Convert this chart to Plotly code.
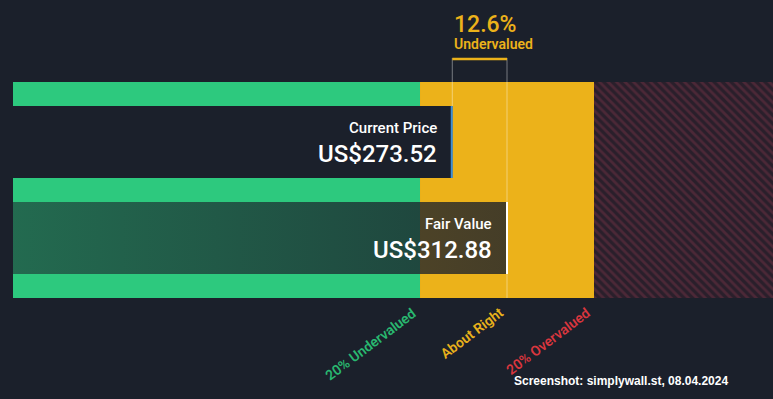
import plotly.graph_objects as go

# ---- data ----
fair_value = 312.88
current_price = 273.52
band_pct = 0.20
zone_labels = ["20% Undervalued", "About Right", "20% Overvalued"]
date_text = "Screenshot: simplywall.st, 08.04.2024"

lower = fair_value * (1 - band_pct)
upper = fair_value * (1 + band_pct)
discount = (fair_value - current_price) / fair_value * 100

# ---- layout constants ----
BG = "#1b202b"
GREEN = "#2dc97e"
YELLOW = "#ecb21a"
RED_LBL = "#d9363e"
X_RANGE = [-51.8, 504.2]
chart_start = -42.45
chart_end = 520

fig = go.Figure()

# zone bars (y axis in pixel-like units, reversed)
bar_c, bar_h = 190, 216
zone_starts = [chart_start, lower, upper]
zone_ends = [lower, upper, chart_end]
for i, (s, e) in enumerate(zip(zone_starts, zone_ends)):
    if i < 2:
        marker = dict(color=[GREEN, YELLOW][i], line=dict(width=0))
    else:
        marker = dict(color="#2a1f2b", line=dict(width=0),
                      pattern=dict(shape="\\", fgcolor="#6e3244", bgcolor="#2a1f2b",
                                   size=6, solidity=0.45))
    fig.add_trace(go.Bar(orientation="h", base=[s], x=[e - s], y=[bar_c], width=[bar_h],
                         marker=marker, hoverinfo="skip", showlegend=False))

# current price box
fig.add_trace(go.Bar(orientation="h", base=[chart_start], x=[current_price - chart_start],
                     y=[142], width=[72], marker=dict(color=BG, line=dict(width=0)),
                     hoverinfo="skip", showlegend=False))

# fair value box (gradient overlay)
fig.add_trace(go.Scatter(
    x=[chart_start, fair_value, fair_value, chart_start, chart_start],
    y=[202, 202, 274, 274, 202], mode="lines", line=dict(width=0),
    fill="toself",
    fillgradient=dict(type="horizontal",
                      colorscale=[[0, "rgba(27,32,43,0.56)"], [0.8, "rgba(27,32,43,0.76)"],
                                  [1, "rgba(27,32,43,0.8)"]]),
    hoverinfo="skip", showlegend=False))

def vline(x, y0, y1, color, width):
    fig.add_trace(go.Scatter(x=[x, x], y=[y0, y1], mode="lines",
                             line=dict(color=color, width=width),
                             hoverinfo="skip", showlegend=False))

vline(current_price, 58, 106, "rgba(255,255,255,0.4)", 1)
vline(fair_value, 58, 298, "rgba(255,255,255,0.4)", 1)
vline(current_price - 0.4, 106, 178, "#3f8fd6", 2)
vline(fair_value, 202, 274, "#ffffff", 2)
# bracket
fig.add_trace(go.Scatter(x=[current_price, fair_value], y=[59, 59], mode="lines",
                         line=dict(color=YELLOW, width=2.5),
                         hoverinfo="skip", showlegend=False))

ann = []
FONT = "Roboto"
ann.append(dict(x=current_price, y=24, text=f"{discount:.1f}%", xanchor="left", yanchor="middle",
                showarrow=False, font=dict(family=FONT, size=23, color=YELLOW, weight=500)))
ann.append(dict(x=current_price, y=44, text="Undervalued", xanchor="left", yanchor="middle",
                showarrow=False, font=dict(family=FONT, size=14, color=YELLOW, weight=600)))
ann.append(dict(x=current_price, xshift=-13, y=128, text="Current Price", xanchor="right",
                yanchor="middle", showarrow=False,
                font=dict(family=FONT, size=15, color="white", weight=500)))
ann.append(dict(x=current_price, xshift=-13, y=154, text=f"US${current_price:.2f}", xanchor="right",
                yanchor="middle", showarrow=False,
                font=dict(family=FONT, size=24, color="white", weight=500)))
ann.append(dict(x=fair_value, xshift=-13, y=224, text="Fair Value", xanchor="right",
                yanchor="middle", showarrow=False,
                font=dict(family=FONT, size=15, color="white", weight=500)))
ann.append(dict(x=fair_value, xshift=-13, y=250, text=f"US${fair_value:.2f}", xanchor="right",
                yanchor="middle", showarrow=False,
                font=dict(family=FONT, size=24, color="white", weight=500)))
for xv, lbl, col in zip([lower, fair_value, upper], zone_labels, ["#29b870", "#e9b11b", RED_LBL]):
    ann.append(dict(x=xv, xshift=2, y=302, text=lbl, textangle=-37, xanchor="right",
                    yanchor="top", showarrow=False,
                    font=dict(family=FONT, size=14, color=col, weight=600)))
ann.append(dict(x=621 / 773, y=1 - 381 / 399, xref="paper", yref="paper", text=f"<b>{date_text}</b>",
                xanchor="center", yanchor="middle", showarrow=False,
                font=dict(family="Liberation Sans", size=12, color="white")))
for a in ann:
    a.setdefault("xref", "x")
    a.setdefault("yref", "y")

fig.update_layout(
    width=773, height=399, margin=dict(l=0, r=0, t=0, b=0),
    paper_bgcolor=BG, plot_bgcolor=BG, barmode="overlay",
    xaxis=dict(range=X_RANGE, visible=False, fixedrange=True),
    yaxis=dict(range=[399, 0], visible=False, fixedrange=True),
    annotations=ann, showlegend=False,
)
fig.write_html("out.html", config={"displayModeBar": False},
               post_script="document.body.style.margin='0';document.body.style.overflow='hidden';")
